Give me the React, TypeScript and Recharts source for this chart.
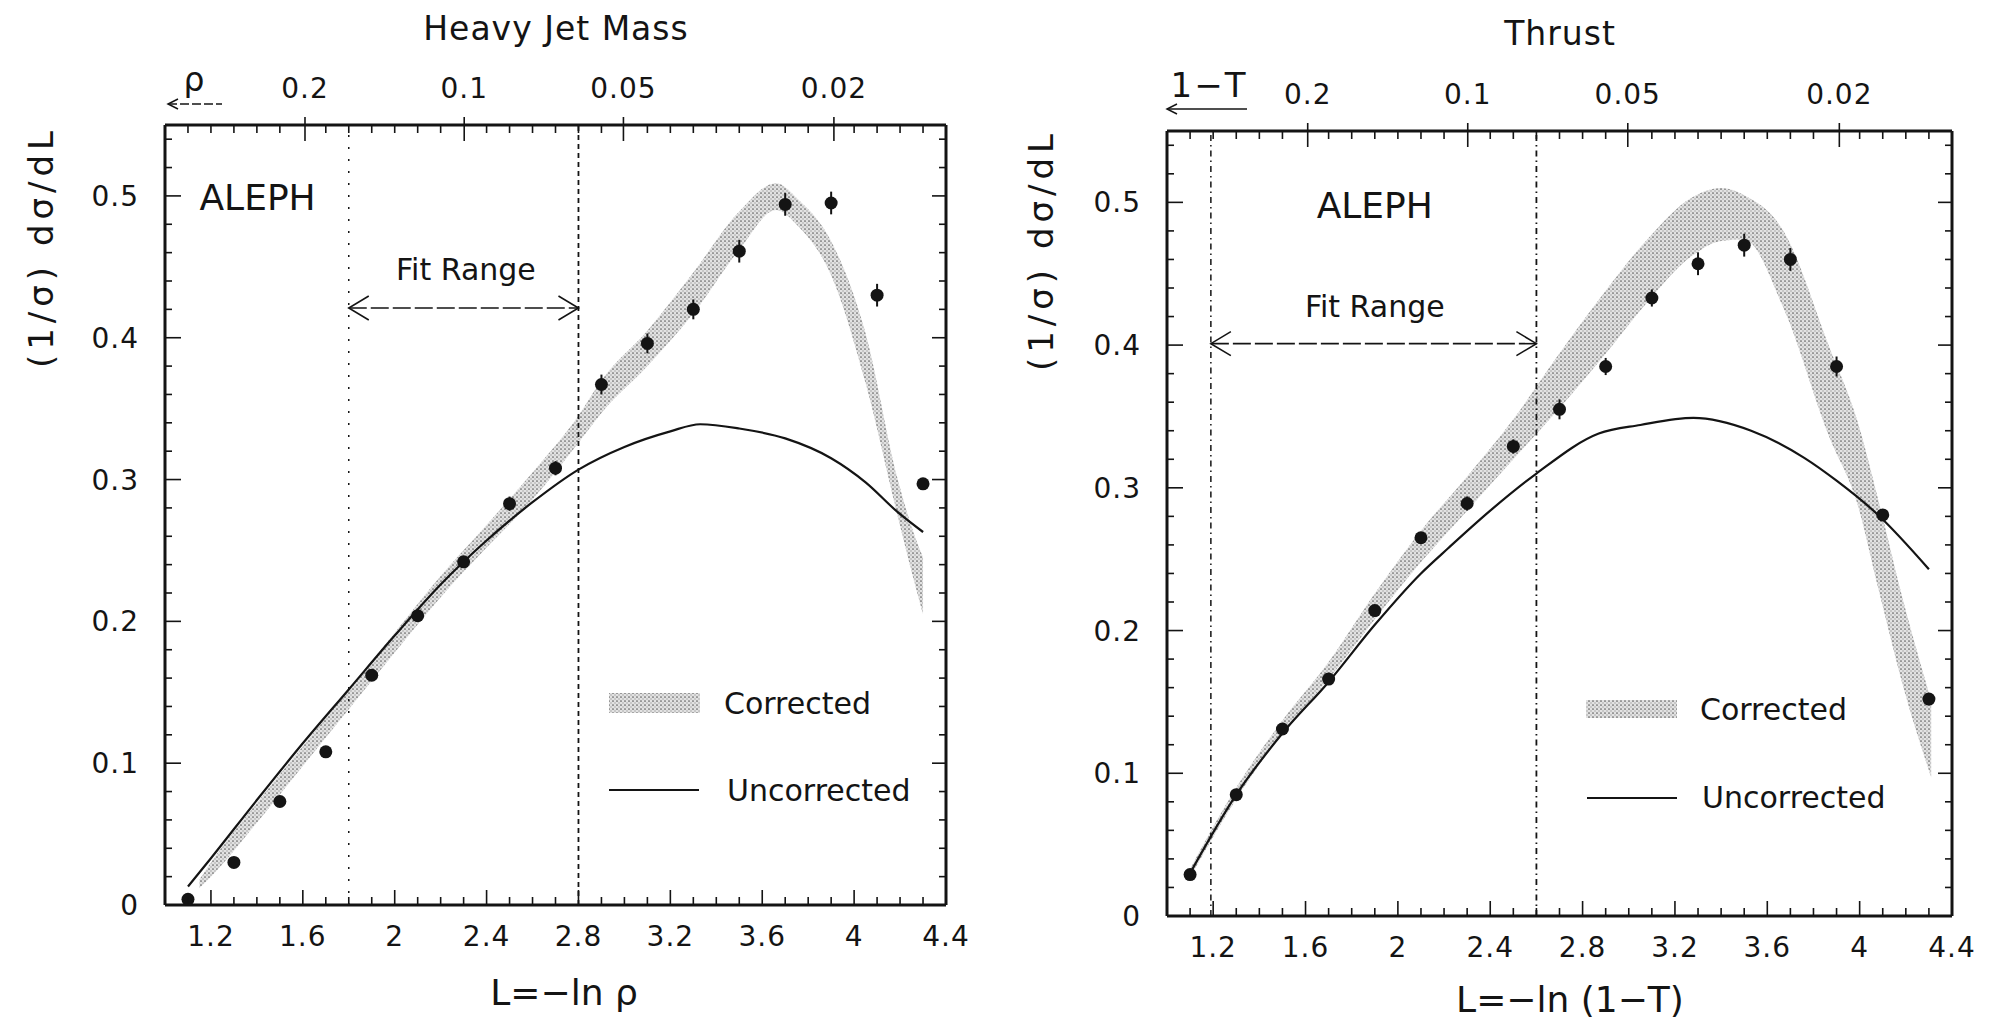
import React from 'react';
import {
  ComposedChart,
  XAxis,
  YAxis,
  Area,
  Line,
  Scatter,
  ErrorBar,
  ReferenceLine,
  ReferenceDot,
} from 'recharts';

// ---------- Heavy jet mass (left panel) ----------
const binL = [1.1, 1.3, 1.5, 1.7, 1.9, 2.1, 2.3, 2.5, 2.7, 2.9, 3.1, 3.3, 3.5, 3.7, 3.9, 4.1, 4.3];
const hjmValues = [0.004, 0.03, 0.073, 0.108, 0.162, 0.204, 0.242, 0.283, 0.308, 0.367, 0.396, 0.42, 0.461, 0.494, 0.495, 0.43, 0.297];
const hjmErrors = [0.002, 0.002, 0.003, 0.003, 0.003, 0.004, 0.004, 0.005, 0.005, 0.007, 0.007, 0.007, 0.008, 0.008, 0.008, 0.008, 0.004];

const hjmUncorrL = [1.1, 1.2, 1.4, 1.6, 1.8, 2.0, 2.2, 2.4, 2.6, 2.8, 3.0, 3.2, 3.33, 3.5, 3.7, 3.9, 4.05, 4.19, 4.3];
const hjmUncorr = [0.013, 0.033, 0.074, 0.114, 0.152, 0.19, 0.226, 0.257, 0.284, 0.307, 0.323, 0.334, 0.339, 0.336, 0.329, 0.315, 0.298, 0.277, 0.263];

const hjmBandL = [1.15, 1.2, 1.4, 1.6, 1.8, 2.0, 2.2, 2.4, 2.6, 2.8, 2.9, 3.1, 3.3, 3.5, 3.66, 3.76, 3.9, 4.05, 4.19, 4.26, 4.3];
const hjmBandLow = [0.012, 0.02, 0.058, 0.098, 0.138, 0.178, 0.217, 0.252, 0.286, 0.326, 0.347, 0.38, 0.417, 0.462, 0.49, 0.478, 0.444, 0.368, 0.274, 0.229, 0.205];
const hjmBandHigh = [0.018, 0.03, 0.072, 0.112, 0.152, 0.192, 0.232, 0.268, 0.305, 0.345, 0.37, 0.405, 0.446, 0.489, 0.509, 0.497, 0.468, 0.403, 0.3, 0.262, 0.245];

// ---------- Thrust (right panel) ----------
const thrValues = [0.029, 0.085, 0.131, 0.166, 0.214, 0.265, 0.289, 0.329, 0.355, 0.385, 0.433, 0.457, 0.47, 0.46, 0.385, 0.281, 0.152];
const thrErrors = [0.002, 0.002, 0.003, 0.003, 0.004, 0.004, 0.005, 0.005, 0.007, 0.006, 0.006, 0.008, 0.008, 0.008, 0.007, 0.004, 0.004];

const thrUncorrL = [1.1, 1.3, 1.5, 1.7, 1.9, 2.1, 2.22, 2.4, 2.6, 2.87, 3.05, 3.28, 3.53, 3.76, 3.9, 4.08, 4.3];
const thrUncorr = [0.03, 0.085, 0.128, 0.164, 0.204, 0.24, 0.258, 0.284, 0.31, 0.338, 0.344, 0.349, 0.34, 0.321, 0.305, 0.281, 0.243];

const thrBandL = [1.1, 1.3, 1.5, 1.7, 1.9, 2.1, 2.3, 2.5, 2.69, 2.89, 3.08, 3.27, 3.4, 3.5, 3.67, 3.87, 3.99, 4.08, 4.19, 4.31];
const thrBandLow = [0.027, 0.082, 0.128, 0.166, 0.208, 0.248, 0.284, 0.32, 0.354, 0.392, 0.43, 0.462, 0.473, 0.474, 0.426, 0.335, 0.289, 0.23, 0.16, 0.097];
const thrBandHigh = [0.033, 0.09, 0.137, 0.178, 0.226, 0.27, 0.308, 0.348, 0.392, 0.436, 0.474, 0.503, 0.51, 0.505, 0.48, 0.398, 0.347, 0.292, 0.22, 0.151];

// ---------- axes ----------
const xDomain: [number, number] = [1, 4.4];
const yDomain: [number, number] = [0, 0.55];
const xLabels = [1.2, 1.6, 2, 2.4, 2.8, 3.2, 3.6, 4, 4.4];
const yLabels = [0, 0.1, 0.2, 0.3, 0.4, 0.5];
const topLabels = [0.2, 0.1, 0.05, 0.02];

const xMinor = Array.from({ length: 35 }, (_, i) => +(1 + i * 0.1).toFixed(1));
const yMinor = Array.from({ length: 28 }, (_, i) => +(i * 0.02).toFixed(2));
const topL = topLabels.map((r) => -Math.log(r));
const topTicks = [...xMinor.filter((v) => topL.every((l) => Math.abs(l - v) > 0.03)), ...topL].sort((a, b) => a - b);

const FONT = '"DejaVu Sans", sans-serif';
const INK = '#141414';
const tickFont: React.CSSProperties = { fontFamily: FONT, fontSize: 28, fill: INK, letterSpacing: 1 };

const near = (arr: number[], v: number) => arr.findIndex((a) => Math.abs(a - v) < 1e-6);

const BottomTick = (props: any) => {
  const { x, y, payload } = props;
  const v = payload.value as number;
  const major = near(xLabels, v) >= 0;
  return (
    <g>
      <line x1={x} y1={y} x2={x} y2={y - (major ? 15 : 8)} stroke={INK} strokeWidth={1.6} />
      {major && (
        <text x={x} y={y + 41} textAnchor="middle" style={tickFont}>
          {String(+v.toFixed(1))}
        </text>
      )}
    </g>
  );
};

const TopTick = (props: any) => {
  const { x, y, payload } = props;
  const idx = near(topL, payload.value);
  const major = idx >= 0;
  return (
    <g>
      <line x1={x} y1={y - (major ? 8 : 0)} x2={x} y2={y + (major ? 16 : 8)} stroke={INK} strokeWidth={1.6} />
      {major && (
        <text x={x} y={y - 27} textAnchor="middle" style={tickFont}>
          {String(topLabels[idx])}
        </text>
      )}
    </g>
  );
};

const LeftTick = (props: any) => {
  const { x, y, payload } = props;
  const v = payload.value as number;
  const major = near(yLabels, v) >= 0;
  return (
    <g>
      <line x1={x} y1={y} x2={x + (major ? 16 : 7)} y2={y} stroke={INK} strokeWidth={1.6} />
      {major && (
        <text x={x - 26} y={y + 10} textAnchor="end" style={tickFont}>
          {v === 0 ? '0' : String(+v.toFixed(1))}
        </text>
      )}
    </g>
  );
};

const RightTick = (props: any) => {
  const { x, y, payload } = props;
  const major = near(yLabels, payload.value) >= 0;
  return <line x1={x} y1={y} x2={x - (major ? 14 : 7)} y2={y} stroke={INK} strokeWidth={1.6} />;
};

const DataDot = (p: any) => <circle cx={p.cx} cy={p.cy} r={6.5} fill={INK} />;

const FitArrow = (p: any) => {
  const { x1, y1, x2, y2 } = p;
  return (
    <g stroke={INK} strokeWidth={1.6} fill="none">
      <line x1={x1} y1={y1} x2={x2} y2={y2} strokeDasharray="18 4" />
      <polyline points={`${x1 + 20},${y1 - 12} ${x1},${y1} ${x1 + 20},${y1 + 12}`} />
      <polyline points={`${x2 - 20},${y2 - 12} ${x2},${y2} ${x2 - 20},${y2 + 12}`} />
    </g>
  );
};

const textShape = (label: string, size: number, anchor: 'start' | 'middle', spacing = 0) => (p: any) => (
  <text x={p.cx} y={p.cy} textAnchor={anchor} style={{ fontFamily: FONT, fontSize: size, fill: INK, letterSpacing: spacing }}>
    {label}
  </text>
);

const Stipple = ({ id }: { id: string }) => (
  <pattern id={id} width={4} height={4} patternUnits="userSpaceOnUse">
    <rect width={4} height={4} fill="#e2e2e2" />
    <circle cx={1} cy={1} r={0.85} fill="#5e5e5e" />
    <circle cx={3} cy={3} r={0.7} fill="#999" />
  </pattern>
);

type PanelProps = {
  id: string;
  left: number;
  width: number;
  margin: { top: number; right: number; bottom: number; left: number };
  values: number[];
  errors: number[];
  uncorrL: number[];
  uncorr: number[];
  bandL: number[];
  bandLow: number[];
  bandHigh: number[];
  cuts: [number, number];
  cutDash: [string, string];
  fitY: number;
  fitText: [number, number];
  aleph: [number, number];
  alephAnchor: 'start' | 'middle';
};

const Panel: React.FC<PanelProps> = (p) => {
  const points = binL.map((L, i) => ({ L, v: p.values[i], err: p.errors[i] }));
  const uncorrected = p.uncorrL.map((L, i) => ({ L, v: p.uncorr[i] }));
  const band = p.bandL.map((L, i) => ({ L, range: [p.bandLow[i], p.bandHigh[i]] }));
  const axisLine = { stroke: INK, strokeWidth: 3 };

  return (
    <div style={{ position: 'absolute', left: p.left, top: 0, width: p.width, height: 1023 }}>
      <ComposedChart width={p.width} height={1023} margin={p.margin}>
        <defs>
          <Stipple id={p.id} />
        </defs>
        <XAxis xAxisId="b" dataKey="L" type="number" domain={xDomain} allowDataOverflow ticks={xMinor} interval={0}
          tick={BottomTick} tickLine={false} tickSize={0} tickMargin={0} axisLine={axisLine} height={50} />
        <XAxis xAxisId="t" orientation="top" dataKey="L" type="number" domain={xDomain} allowDataOverflow ticks={topTicks}
          interval={0} tick={TopTick} tickLine={false} tickSize={0} tickMargin={0} axisLine={axisLine} height={50} />
        <YAxis yAxisId="l" type="number" domain={yDomain} allowDataOverflow ticks={yMinor} interval={0}
          tick={LeftTick} tickLine={false} tickSize={0} tickMargin={0} axisLine={axisLine} width={80} />
        <YAxis yAxisId="r" orientation="right" type="number" domain={yDomain} allowDataOverflow ticks={yMinor}
          interval={0} tick={RightTick} tickLine={false} tickSize={0} tickMargin={0} axisLine={axisLine} width={10} />

        <ReferenceLine xAxisId="b" yAxisId="l" x={p.cuts[0]} stroke={INK} strokeWidth={1.5} strokeDasharray={p.cutDash[0]} />
        <ReferenceLine xAxisId="b" yAxisId="l" x={p.cuts[1]} stroke={INK} strokeWidth={1.8} strokeDasharray={p.cutDash[1]} />
        <ReferenceLine xAxisId="b" yAxisId="l" segment={[{ x: p.cuts[0], y: p.fitY }, { x: p.cuts[1], y: p.fitY }]} shape={FitArrow} />
        <ReferenceDot xAxisId="b" yAxisId="l" x={p.fitText[0]} y={p.fitText[1]} r={0} shape={textShape('Fit Range', 30, 'middle')} />
        <ReferenceDot xAxisId="b" yAxisId="l" x={p.aleph[0]} y={p.aleph[1]} r={0} shape={textShape('ALEPH', 36, p.alephAnchor)} />

        <Area xAxisId="b" yAxisId="l" data={band} dataKey="range" type="monotone" stroke="none"
          fill={`url(#${p.id})`} fillOpacity={1} dot={false} activeDot={false} isAnimationActive={false} />
        <Line xAxisId="b" yAxisId="l" data={uncorrected} dataKey="v" type="monotone" stroke={INK} strokeWidth={2.2}
          dot={false} activeDot={false} isAnimationActive={false} />
        <Scatter xAxisId="b" yAxisId="l" data={points} dataKey="v" shape={DataDot} isAnimationActive={false}>
          <ErrorBar dataKey="err" direction="y" width={0} stroke={INK} strokeWidth={2} />
        </Scatter>
      </ComposedChart>
    </div>
  );
};

const txt = (size: number, spacing = 0): React.CSSProperties => ({ fontFamily: FONT, fontSize: size, fill: INK, letterSpacing: spacing });

// titles, axis names, legends
const Overlay = () => (
  <svg width={1989} height={1023} style={{ position: 'absolute', left: 0, top: 0, pointerEvents: 'none' }}>
    <defs>
      <Stipple id="legendStipple" />
    </defs>
    <text x={556} y={40} textAnchor="middle" style={txt(33, 1)}>Heavy Jet Mass</text>
    <text x={1560} y={45} textAnchor="middle" style={txt(33, 1)}>Thrust</text>

    <text transform="translate(41,247) rotate(-90)" textAnchor="middle" dominantBaseline="central" style={txt(34, 5)}>
      (1/σ) dσ/dL
    </text>
    <text transform="translate(1041,250) rotate(-90)" textAnchor="middle" dominantBaseline="central" style={txt(34, 5)}>
      (1/σ) dσ/dL
    </text>

    <text x={564} y={1005} textAnchor="middle" style={txt(36)}>L=−ln ρ</text>
    <text x={1570} y={1012} textAnchor="middle" style={txt(36)}>L=−ln (1−T)</text>

    <text x={194} y={91} textAnchor="middle" style={txt(33)}>ρ</text>
    <g stroke={INK} strokeWidth={1.5} fill="none">
      <line x1={168} y1={104} x2={222} y2={104} strokeDasharray="9 3" />
      <polyline points="178,99 168,104 178,109" />
    </g>
    <text x={1209} y={97} textAnchor="middle" style={txt(34, 2)}>1−T</text>
    <g stroke={INK} strokeWidth={1.5} fill="none">
      <line x1={1167} y1={109} x2={1247} y2={109} />
      <polyline points="1177,104 1167,109 1177,114" />
    </g>

    <rect x={609} y={693} width={91} height={20} fill="url(#legendStipple)" />
    <text x={724} y={714} style={txt(30)}>Corrected</text>
    <line x1={609} y1={790} x2={699} y2={790} stroke={INK} strokeWidth={2} />
    <text x={727} y={801} style={txt(30)}>Uncorrected</text>

    <rect x={1586} y={700} width={91} height={18} fill="url(#legendStipple)" />
    <text x={1700} y={720} style={txt(30)}>Corrected</text>
    <line x1={1587} y1={798} x2={1677} y2={798} stroke={INK} strokeWidth={2} />
    <text x={1702} y={808} style={txt(30)}>Uncorrected</text>
  </svg>
);

export default function App() {
  return (
    <div style={{ position: 'absolute', left: 0, top: 0, width: 1989, height: 1023, background: '#fff', overflow: 'hidden' }}>
      <Panel
        id="stippleHjm"
        left={0}
        width={1000}
        margin={{ top: 75, right: 44, bottom: 68, left: 85 }}
        values={hjmValues}
        errors={hjmErrors}
        uncorrL={hjmUncorrL}
        uncorr={hjmUncorr}
        bandL={hjmBandL}
        bandLow={hjmBandLow}
        bandHigh={hjmBandHigh}
        cuts={[1.8, 2.8]}
        cutDash={['2 10', '5 4']}
        fitY={0.421}
        fitText={[2.31, 0.441]}
        aleph={[1.15, 0.49]}
        alephAnchor="start"
      />
      <Panel
        id="stippleThr"
        left={1000}
        width={989}
        margin={{ top: 81, right: 27, bottom: 57, left: 87 }}
        values={thrValues}
        errors={thrErrors}
        uncorrL={thrUncorrL}
        uncorr={thrUncorr}
        bandL={thrBandL}
        bandLow={thrBandLow}
        bandHigh={thrBandHigh}
        cuts={[1.19, 2.6]}
        cutDash={['6 4 1.5 4', '6 4 1.5 4']}
        fitY={0.401}
        fitText={[1.9, 0.42]}
        aleph={[1.9, 0.489]}
        alephAnchor="middle"
      />
      <Overlay />
    </div>
  );
}
